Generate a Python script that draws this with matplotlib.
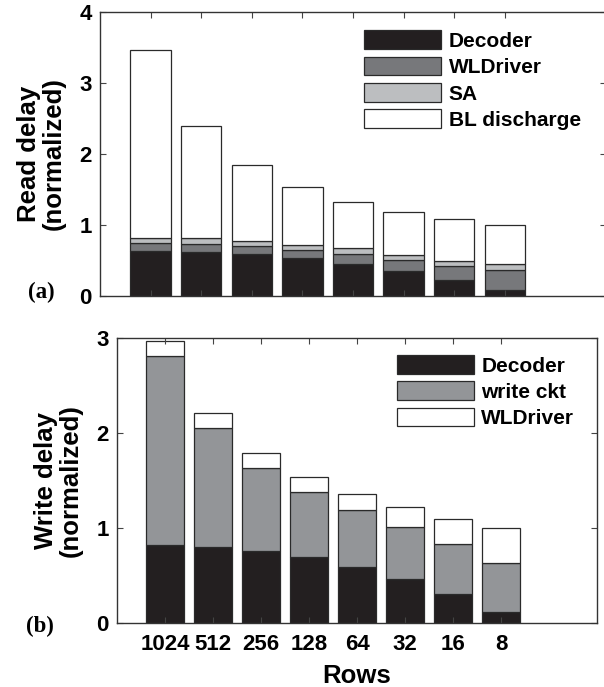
import numpy as np
import matplotlib
matplotlib.use("Agg")
import matplotlib.pyplot as plt

plt.rcParams["font.family"] = ["Liberation Sans", "DejaVu Sans"]
plt.rcParams["font.weight"] = "bold"

rows = ["1024", "512", "256", "128", "64", "32", "16", "8"]

# read delay, cumulative levels
rd_decoder = [0.64, 0.62, 0.59, 0.53, 0.45, 0.35, 0.23, 0.08]
rd_wl_top = [0.75, 0.73, 0.70, 0.65, 0.59, 0.51, 0.42, 0.36]
rd_sa_top = [0.82, 0.81, 0.78, 0.72, 0.67, 0.58, 0.50, 0.45]
rd_total = [3.47, 2.40, 1.85, 1.53, 1.33, 1.19, 1.08, 1.00]

# write delay, cumulative levels
wr_decoder = [0.82, 0.80, 0.76, 0.69, 0.59, 0.46, 0.31, 0.12]
wr_ckt_top = [2.81, 2.05, 1.63, 1.38, 1.19, 1.01, 0.83, 0.63]
wr_total = [2.97, 2.21, 1.79, 1.54, 1.36, 1.22, 1.09, 1.00]

W, H = 604, 687
fig = plt.figure(figsize=(W / 100, H / 100), dpi=100)


def px_axes(l, t, r, b):
    return fig.add_axes([l / W, 1 - b / H, (r - l) / W, (b - t) / H])


x = np.arange(1, len(rows) + 1)
edge = "#2a2a2a"
lw = 0.9
bw = 0.8
leg_kw = dict(loc="upper left", frameon=False, fontsize=15, handlelength=3.7,
              handleheight=1.0, labelspacing=0.28, handletextpad=0.35,
              borderpad=0, borderaxespad=0)

# ---- (a) read delay
ax1 = px_axes(100, 12, 606, 296)
rd_dec = np.array(rd_decoder)
rd_wl = np.array(rd_wl_top) - rd_dec
rd_sa = np.array(rd_sa_top) - np.array(rd_wl_top)
rd_bl = np.array(rd_total) - np.array(rd_sa_top)
ax1.bar(x, rd_dec, bw, color="#231f20", edgecolor=edge, lw=lw, label="Decoder")
ax1.bar(x, rd_wl, bw, bottom=rd_dec, color="#77787b", edgecolor=edge, lw=lw, label="WLDriver")
ax1.bar(x, rd_sa, bw, bottom=rd_dec + rd_wl, color="#bcbec0", edgecolor=edge, lw=lw, label="SA")
ax1.bar(x, rd_bl, bw, bottom=np.array(rd_sa_top), color="white", edgecolor=edge, lw=lw,
        label="BL discharge")
ax1.set_xlim(0, 10)
ax1.set_ylim(0, 4)
ax1.set_xticks(x)
ax1.set_xticklabels([])
ax1.set_yticks([0, 1, 2, 3, 4])
ax1.set_ylabel("Read delay\n(normalized)", fontsize=18.5, fontweight="bold", linespacing=1.05)
ax1.yaxis.set_label_coords(-0.067, 0.5)
ax1.legend(bbox_to_anchor=(0.522, 0.935), **leg_kw)
fig.text(28 / W, 1 - 292 / H, "(a)", family="Liberation Serif", fontsize=16.5,
         fontweight="bold", va="center")

# ---- (b) write delay
ax2 = px_axes(117, 338, 597, 623)
wr_dec = np.array(wr_decoder)
wr_ckt = np.array(wr_ckt_top) - wr_dec
wr_wl = np.array(wr_total) - np.array(wr_ckt_top)
ax2.bar(x, wr_dec, bw, color="#231f20", edgecolor=edge, lw=lw, label="Decoder")
ax2.bar(x, wr_ckt, bw, bottom=wr_dec, color="#939598", edgecolor=edge, lw=lw, label="write ckt")
ax2.bar(x, wr_wl, bw, bottom=np.array(wr_ckt_top), color="white", edgecolor=edge, lw=lw,
        label="WLDriver")
ax2.set_xlim(0, 10)
ax2.set_ylim(0, 3)
ax2.set_xticks(x)
ax2.set_xticklabels(rows)
ax2.set_yticks([0, 1, 2, 3])
ax2.set_xlabel("Rows", fontsize=18.5, fontweight="bold")
ax2.xaxis.set_label_coords(0.5, -0.145)
ax2.set_ylabel("Write delay\n(normalized)", fontsize=18.5, fontweight="bold", linespacing=1.05)
ax2.yaxis.set_label_coords(-0.071, 0.5)
ax2.legend(bbox_to_anchor=(0.583, 0.94), **leg_kw)
fig.text(26 / W, 1 - 626 / H, "(b)", family="Liberation Serif", fontsize=16.5,
         fontweight="bold", va="center")

for ax in (ax1, ax2):
    ax.tick_params(direction="in", top=True, right=True, labelsize=16, length=4,
                   width=0.8, color="#444444")
    ax.tick_params(axis="x", pad=8)
    ax.tick_params(axis="y", pad=6)
    for lab in ax.get_xticklabels() + ax.get_yticklabels():
        lab.set_fontweight("bold")
    for s in ax.spines.values():
        s.set_linewidth(1.0)
        s.set_color("#333333")

fig.savefig("out.png", dpi=100)
